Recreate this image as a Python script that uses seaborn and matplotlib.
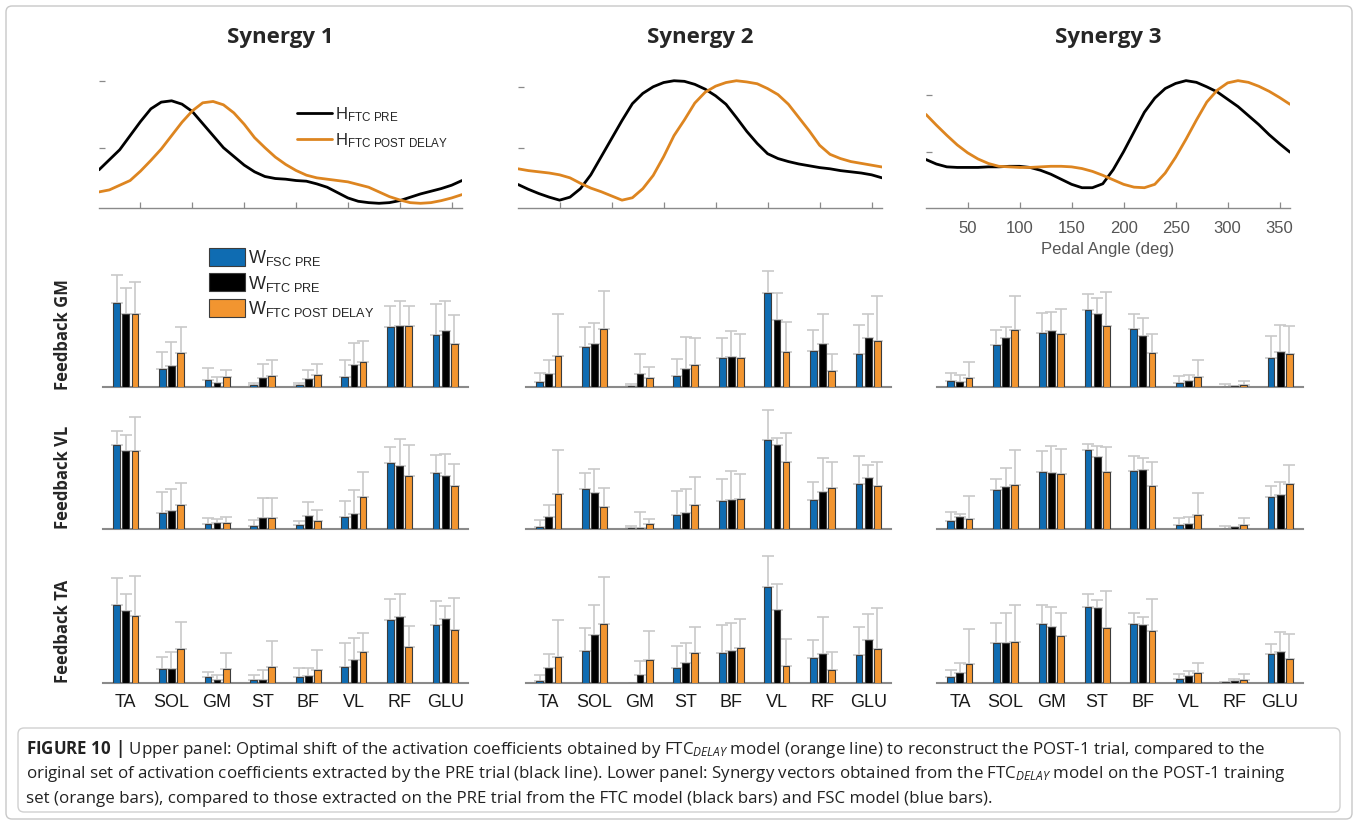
import matplotlib
matplotlib.use("Agg")
import matplotlib.pyplot as plt
import numpy as np
import pandas as pd
import seaborn as sns
from matplotlib.patches import Patch, FancyBboxPatch
from matplotlib.lines import Line2D

# ---------------------------------------------------------------- data
pedal_angle = [10, 20, 30, 40, 50, 60, 70, 80, 90, 100, 110, 120, 130, 140, 150, 160, 170, 180,
               190, 200, 210, 220, 230, 240, 250, 260, 270, 280, 290, 300, 310, 320, 330, 340, 350, 360]

syn1_h_pre = [0.67, 0.82, 0.97, 1.18, 1.39, 1.58, 1.68, 1.70, 1.65, 1.54, 1.36, 1.18, 1.00, 0.87, 0.74, 0.64, 0.57, 0.54,
              0.53, 0.51, 0.50, 0.46, 0.41, 0.33, 0.25, 0.20, 0.18, 0.17, 0.18, 0.21, 0.26, 0.31, 0.35, 0.39, 0.44, 0.51]
syn1_h_post = [0.34, 0.37, 0.44, 0.51, 0.65, 0.81, 0.98, 1.18, 1.38, 1.55, 1.67, 1.69, 1.64, 1.52, 1.35, 1.15, 1.00, 0.86,
               0.75, 0.66, 0.59, 0.55, 0.53, 0.51, 0.49, 0.45, 0.41, 0.34, 0.27, 0.22, 0.18, 0.17, 0.18, 0.21, 0.25, 0.30]
syn2_h_pre = [0.39, 0.31, 0.24, 0.18, 0.13, 0.18, 0.32, 0.55, 0.85, 1.15, 1.45, 1.73, 1.90, 2.01, 2.08, 2.11, 2.10, 2.05,
              1.97, 1.86, 1.72, 1.50, 1.27, 1.07, 0.90, 0.82, 0.77, 0.73, 0.70, 0.67, 0.65, 0.62, 0.60, 0.58, 0.55, 0.50]
syn2_h_post = [0.65, 0.62, 0.60, 0.58, 0.55, 0.50, 0.41, 0.33, 0.27, 0.20, 0.13, 0.17, 0.32, 0.54, 0.85, 1.20, 1.46, 1.74,
               1.92, 2.02, 2.08, 2.11, 2.09, 2.06, 1.98, 1.88, 1.72, 1.50, 1.28, 1.04, 0.89, 0.82, 0.77, 0.74, 0.71, 0.68]
syn3_h_pre = [0.86, 0.78, 0.73, 0.72, 0.72, 0.72, 0.73, 0.73, 0.74, 0.74, 0.72, 0.67, 0.60, 0.51, 0.42, 0.36, 0.36, 0.43,
              0.68, 1.00, 1.35, 1.70, 1.95, 2.12, 2.21, 2.26, 2.23, 2.15, 2.06, 1.93, 1.80, 1.64, 1.48, 1.30, 1.14, 0.99]
syn3_h_post = [1.66, 1.47, 1.29, 1.12, 0.98, 0.87, 0.79, 0.74, 0.73, 0.72, 0.72, 0.73, 0.74, 0.74, 0.73, 0.70, 0.65, 0.58,
               0.50, 0.42, 0.37, 0.36, 0.42, 0.62, 0.90, 1.22, 1.56, 1.88, 2.09, 2.22, 2.26, 2.23, 2.16, 2.07, 1.96, 1.84]

muscles = ["TA", "SOL", "GM", "ST", "BF", "VL", "RF", "GLU"]
series = ["FSC PRE", "FTC PRE", "FTC POST DELAY"]

# synergy weights: rows = FSC PRE, FTC PRE, FTC POST DELAY ; *_sd = upper error
gm_syn1_w = [[0.84, 0.18, 0.07, 0.02, 0.02, 0.10, 0.60, 0.52],
             [0.73, 0.21, 0.04, 0.09, 0.08, 0.22, 0.61, 0.56],
             [0.73, 0.34, 0.10, 0.11, 0.12, 0.25, 0.61, 0.43]]
gm_syn1_sd = [[0.28, 0.17, 0.12, 0.02, 0.02, 0.17, 0.21, 0.31],
              [0.26, 0.24, 0.06, 0.14, 0.09, 0.22, 0.25, 0.30],
              [0.32, 0.26, 0.07, 0.16, 0.11, 0.21, 0.20, 0.29]]
gm_syn2_w = [[0.05, 0.40, 0.01, 0.11, 0.29, 0.94, 0.36, 0.33],
             [0.13, 0.43, 0.13, 0.18, 0.30, 0.67, 0.43, 0.49],
             [0.31, 0.58, 0.09, 0.22, 0.29, 0.35, 0.16, 0.46]]
gm_syn2_sd = [[0.09, 0.20, 0.02, 0.17, 0.20, 0.22, 0.21, 0.29],
              [0.14, 0.21, 0.20, 0.32, 0.26, 0.27, 0.30, 0.24],
              [0.42, 0.38, 0.11, 0.27, 0.24, 0.30, 0.17, 0.45]]
gm_syn3_w = [[0.06, 0.42, 0.54, 0.77, 0.58, 0.04, 0.00, 0.29],
             [0.05, 0.49, 0.56, 0.73, 0.51, 0.06, 0.01, 0.35],
             [0.09, 0.57, 0.53, 0.61, 0.34, 0.10, 0.02, 0.33]]
gm_syn3_sd = [[0.08, 0.15, 0.20, 0.16, 0.15, 0.07, 0.03, 0.22],
              [0.07, 0.11, 0.19, 0.16, 0.18, 0.06, 0.00, 0.27],
              [0.16, 0.34, 0.25, 0.34, 0.19, 0.17, 0.04, 0.28]]

vl_syn1_w = [[0.84, 0.16, 0.05, 0.03, 0.04, 0.12, 0.66, 0.56],
             [0.78, 0.18, 0.06, 0.11, 0.13, 0.15, 0.63, 0.53],
             [0.78, 0.24, 0.06, 0.11, 0.08, 0.32, 0.53, 0.43]]
vl_syn1_sd = [[0.14, 0.21, 0.06, 0.06, 0.04, 0.16, 0.16, 0.18],
              [0.16, 0.22, 0.04, 0.20, 0.14, 0.24, 0.27, 0.22],
              [0.34, 0.22, 0.06, 0.20, 0.11, 0.25, 0.31, 0.22]]
vl_syn2_w = [[0.02, 0.40, 0.01, 0.14, 0.28, 0.89, 0.29, 0.45],
             [0.12, 0.36, 0.01, 0.16, 0.29, 0.84, 0.37, 0.51],
             [0.35, 0.22, 0.05, 0.24, 0.30, 0.67, 0.41, 0.43]]
vl_syn2_sd = [[0.07, 0.16, 0.02, 0.24, 0.22, 0.30, 0.18, 0.28],
              [0.12, 0.24, 0.16, 0.24, 0.29, 0.07, 0.34, 0.13],
              [0.44, 0.19, 0.05, 0.28, 0.25, 0.29, 0.26, 0.24]]
vl_syn3_w = [[0.08, 0.39, 0.57, 0.79, 0.58, 0.04, 0.00, 0.32],
             [0.12, 0.42, 0.56, 0.72, 0.59, 0.05, 0.02, 0.34],
             [0.10, 0.44, 0.55, 0.57, 0.43, 0.14, 0.04, 0.45]]
vl_syn3_sd = [[0.09, 0.11, 0.21, 0.06, 0.15, 0.07, 0.03, 0.11],
              [0.03, 0.19, 0.27, 0.11, 0.12, 0.07, 0.00, 0.13],
              [0.23, 0.35, 0.25, 0.25, 0.24, 0.22, 0.07, 0.19]]

ta_syn1_w = [[0.78, 0.14, 0.06, 0.03, 0.06, 0.16, 0.63, 0.58],
             [0.72, 0.14, 0.03, 0.03, 0.07, 0.23, 0.66, 0.64],
             [0.67, 0.34, 0.14, 0.16, 0.13, 0.31, 0.36, 0.53]]
ta_syn1_sd = [[0.27, 0.12, 0.05, 0.05, 0.09, 0.24, 0.21, 0.24],
              [0.17, 0.17, 0.05, 0.10, 0.08, 0.22, 0.23, 0.13],
              [0.40, 0.27, 0.16, 0.26, 0.20, 0.19, 0.21, 0.32]]
ta_syn2_w = [[0.02, 0.32, 0.00, 0.15, 0.30, 0.96, 0.25, 0.28],
             [0.15, 0.48, 0.08, 0.20, 0.32, 0.73, 0.29, 0.43],
             [0.26, 0.59, 0.23, 0.30, 0.35, 0.17, 0.13, 0.34]]
ta_syn2_sd = [[0.06, 0.23, 0.00, 0.22, 0.28, 0.31, 0.18, 0.28],
              [0.14, 0.30, 0.14, 0.20, 0.28, 0.26, 0.37, 0.26],
              [0.37, 0.47, 0.29, 0.26, 0.29, 0.27, 0.18, 0.41]]
ta_syn3_w = [[0.06, 0.40, 0.59, 0.76, 0.59, 0.04, 0.01, 0.29],
             [0.10, 0.40, 0.56, 0.75, 0.58, 0.07, 0.02, 0.31],
             [0.19, 0.41, 0.47, 0.55, 0.52, 0.10, 0.03, 0.24]]
ta_syn3_sd = [[0.07, 0.20, 0.19, 0.13, 0.11, 0.05, 0.00, 0.10],
              [0.10, 0.30, 0.20, 0.08, 0.08, 0.05, 0.02, 0.20],
              [0.35, 0.37, 0.23, 0.37, 0.32, 0.10, 0.06, 0.25]]

row_titles = ["Feedback GM", "Feedback VL", "Feedback TA"]
col_titles = ["Synergy 1", "Synergy 2", "Synergy 3"]

# ---------------------------------------------------------------- style
sns.set_theme(style="white")
plt.rcParams["font.family"] = ["Liberation Sans", "DejaVu Sans"]
plt.rcParams["mathtext.fontset"] = "custom"
plt.rcParams["mathtext.rm"] = "Liberation Sans"
plt.rcParams["mathtext.it"] = "Open Sans:italic"
plt.rcParams["mathtext.bf"] = "Open Sans:bold"

LINE_BLACK = "#000000"
LINE_ORANGE = "#dd8520"
BAR_COLORS = ["#0f6cb2", "#000000", "#f29530"]
AXIS_GRAY = "#8a8a8a"
ERR_GRAY = "#c9c9c9"

W, H = 1358, 825
fig = plt.figure(figsize=(W / 100, H / 100), dpi=100)


def rect(l, t, r, b):
    return [l / W, 1 - b / H, (r - l) / W, (b - t) / H]


# ---------------------------------------------------------------- activation coefficients
line_cols = [(99, 462), (518, 882), (926, 1290)]
line_data = [(syn1_h_pre, syn1_h_post), (syn2_h_pre, syn2_h_post), (syn3_h_pre, syn3_h_post)]
line_ylim = [(0.1, 2.085), (0.0, 2.205), (0.0, 2.36)]

line_axes = []
for c, ((l, r), (pre, post), yl) in enumerate(zip(line_cols, line_data, line_ylim)):
    ax = fig.add_axes(rect(l, 75, r, 208))
    sns.lineplot(x=pedal_angle, y=pre, color=LINE_BLACK, linewidth=2.0, ax=ax)
    sns.lineplot(x=pedal_angle, y=post, color=LINE_ORANGE, linewidth=2.0, ax=ax)
    ax.set_xlim(10, 360)
    ax.set_ylim(*yl)
    ax.set_xticks([50, 100, 150, 200, 250, 300, 350])
    ax.set_yticks([1, 2])
    ax.set_yticklabels([])
    for s in ("top", "right", "left"):
        ax.spines[s].set_visible(False)
    ax.spines["bottom"].set_color(AXIS_GRAY)
    ax.spines["bottom"].set_linewidth(1.0)
    ax.tick_params(axis="both", direction="in", length=4, width=0.9, color="#8a8a8a",
                   left=True, bottom=True, labelsize=12, labelcolor="#555555", pad=9)
    if c < 2:
        ax.set_xticklabels([])
    else:
        ax.set_xlabel("Pedal Angle (deg)", fontsize=12, color="#555555", labelpad=5)
    ax.set_title(col_titles[c], fontsize=16, fontweight="bold", family="Open Sans",
                 pad=0, y=(208 - 38) / 133, va="center")
    line_axes.append(ax)

line_handles = [Line2D([], [], color=LINE_BLACK, linewidth=2.0),
                Line2D([], [], color=LINE_ORANGE, linewidth=2.0)]
line_axes[0].legend(line_handles,
                    [r"H$_{\mathrm{FTC\ PRE}}$", r"H$_{\mathrm{FTC\ POST\ DELAY}}$"],
                    loc="upper left", bbox_to_anchor=(297 / W, 1 - 105 / H),
                    bbox_transform=fig.transFigure, frameon=False, fontsize=12,
                    handlelength=2.1, handletextpad=0.2, borderpad=0, borderaxespad=0,
                    labelspacing=0.45)

# ---------------------------------------------------------------- synergy vectors
bar_cols = [(103, 468), (526, 891), (937, 1303)]
bar_rows = [(257, 387), (399, 529), (553, 683)]
panel_w = [[gm_syn1_w, gm_syn2_w, gm_syn3_w],
           [vl_syn1_w, vl_syn2_w, vl_syn3_w],
           [ta_syn1_w, ta_syn2_w, ta_syn3_w]]
panel_sd = [[gm_syn1_sd, gm_syn2_sd, gm_syn3_sd],
            [vl_syn1_sd, vl_syn2_sd, vl_syn3_sd],
            [ta_syn1_sd, ta_syn2_sd, ta_syn3_sd]]

bar_axes = []
for r, (t, b) in enumerate(bar_rows):
    for c, (l, rr) in enumerate(bar_cols):
        ax = fig.add_axes(rect(l, t, rr, b))
        w = panel_w[r][c]
        sd = panel_sd[r][c]
        df = pd.DataFrame([
            {"muscle": m, "series": s, "w": w[si][mi], "sd": sd[si][mi]}
            for si, s in enumerate(series) for mi, m in enumerate(muscles)
        ])
        sns.barplot(data=df, x="muscle", y="w", hue="series", order=muscles, hue_order=series,
                    palette=BAR_COLORS, width=0.6, gap=0.25, errorbar=None, legend=False,
                    edgecolor="#3c3c3c", linewidth=0.8, saturation=1, ax=ax, zorder=3)
        # upper error bars placed on the drawn bars
        xs, ys, es = [], [], []
        for p in ax.patches:
            xc = p.get_x() + p.get_width() / 2
            mi = int(round(xc))
            si = int(round((xc - mi) / 0.2)) + 1
            xs.append(xc)
            ys.append(p.get_height())
            es.append(sd[si][mi])
        ax.errorbar(xs, ys, yerr=[np.zeros(len(es)), es], fmt="none", ecolor=ERR_GRAY,
                    elinewidth=1.2, capsize=4, capthick=1.2, zorder=2)
        ax.set_xlim(-0.5, 7.5)
        ax.set_ylim(0, 1.3)
        ax.set_xlabel("")
        ax.set_ylabel("")
        ax.set_yticks([])
        for s in ("top", "right", "left"):
            ax.spines[s].set_visible(False)
        ax.spines["bottom"].set_color(AXIS_GRAY)
        ax.spines["bottom"].set_linewidth(1.5)
        ax.tick_params(axis="x", length=0, labelsize=13, labelcolor="#1a1a1a", pad=8)
        if r < 2:
            ax.set_xticklabels([])
        if c == 0:
            ax.set_ylabel(row_titles[r], fontsize=12, fontweight="bold", family="Open Sans")
            ax.yaxis.set_label_coords(-31 / 365, 0.4)
        bar_axes.append(ax)

bar_handles = [Patch(facecolor=col, edgecolor="#3c3c3c", linewidth=0.8) for col in BAR_COLORS]
bar_axes[0].legend(bar_handles,
                   [r"W$_{\mathrm{FSC\ PRE}}$", r"W$_{\mathrm{FTC\ PRE}}$", r"W$_{\mathrm{FTC\ POST\ DELAY}}$"],
                   loc="upper left", bbox_to_anchor=(209 / W, 1 - 248 / H),
                   bbox_transform=fig.transFigure, frameon=False, fontsize=13,
                   handlelength=2.0, handleheight=1.15, handletextpad=0.15, borderpad=0,
                   borderaxespad=0, labelspacing=0.3)

# ---------------------------------------------------------------- frame and caption
def inch_box(l, t, r, b, **kw):
    return FancyBboxPatch((l / 100, (H - b) / 100), (r - l) / 100, (b - t) / 100,
                          boxstyle="round,pad=0,rounding_size=0.06",
                          transform=fig.dpi_scale_trans, fill=False, **kw)

fig.patches.append(inch_box(6, 6, 1352, 819, edgecolor="#c8c8c8", linewidth=1.0))
fig.patches.append(inch_box(18, 728, 1340, 812, edgecolor="#d0d0d0", linewidth=1.0))

caption = [
    r"$\mathbf{FIGURE\ 10\ |}$ Upper panel: Optimal shift of the activation coefficients obtained by FTC$_{\mathit{DELAY}}$ model (orange line) to reconstruct the POST-1 trial, compared to the",
    r"original set of activation coefficients extracted by the PRE trial (black line). Lower panel: Synergy vectors obtained from the FTC$_{\mathit{DELAY}}$ model on the POST-1 training",
    r"set (orange bars), compared to those extracted on the PRE trial from the FTC model (black bars) and FSC model (blue bars).",
]
for i, line in enumerate(caption):
    fig.text(26 / W, 1 - (749 + 25 * i) / H, line, fontsize=12.2, family="Open Sans",
             color="#222222", va="center", ha="left")

fig.savefig("out.png", dpi=100)
